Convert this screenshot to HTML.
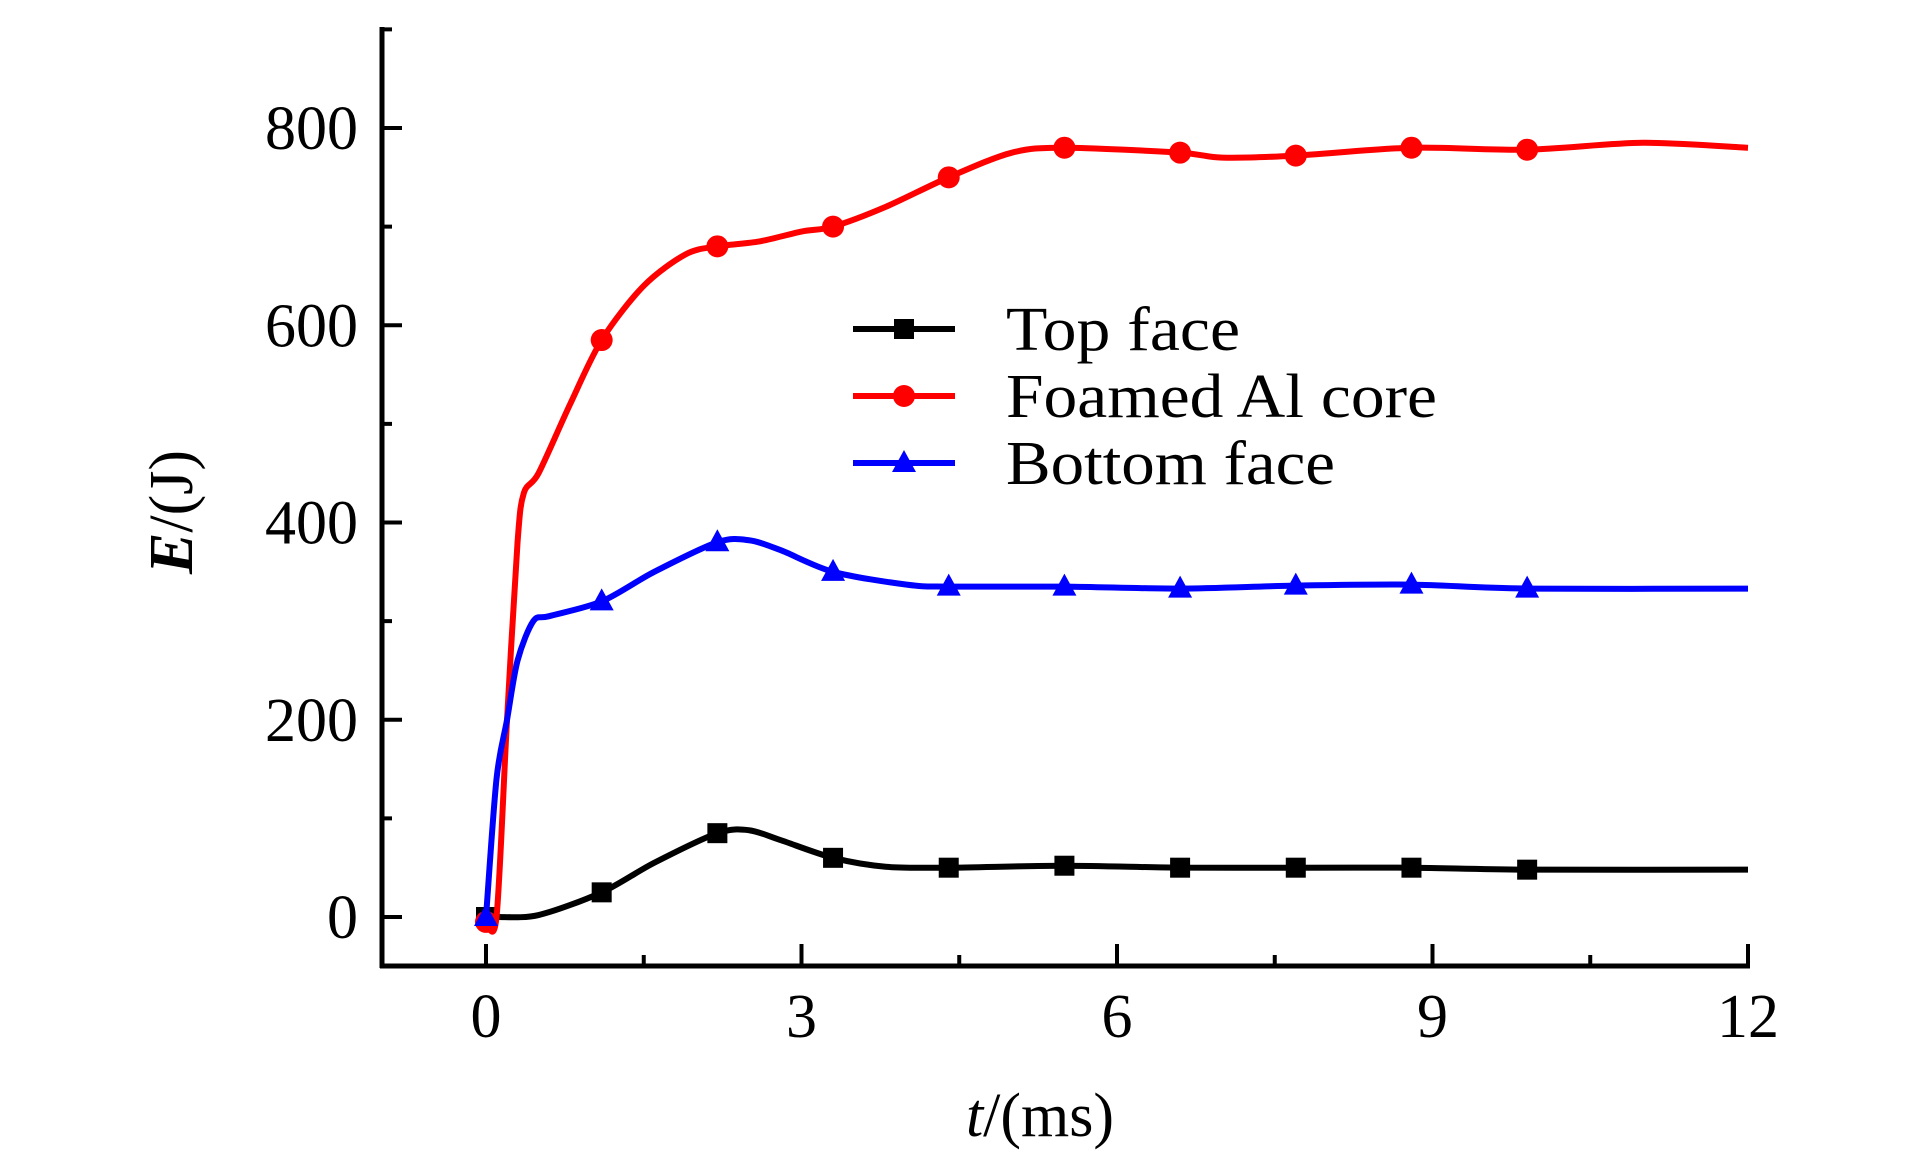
<!DOCTYPE html>
<html><head><meta charset="utf-8"><style>
html,body{margin:0;padding:0;background:#fff}
svg{display:block}
text{font-family:"Liberation Serif",serif;fill:#000}
</style></head><body>
<svg id="chart" width="1923" height="1169" viewBox="0 0 1923 1169" xmlns="http://www.w3.org/2000/svg">
<g id="axes"></g>
<g id="series"></g>
<g id="legend"></g>
<text x="1040" y="1136" font-size="62" text-anchor="middle"><tspan font-style="italic">t</tspan>/(ms)</text>
<text transform="translate(192,512) rotate(-90)" font-size="62" text-anchor="middle"><tspan font-style="italic" font-weight="bold">E</tspan>/(J)</text>
</svg>
<script>
const xTicks=[0,3,6,9,12];
const yTicks=[0,200,400,600,800];
const markerT=[0,1.1,2.2,3.3,4.4,5.5,6.6,7.7,8.8,9.9];
const topT=[0,0.1,0.5,1.1,1.6,2.2,2.5,2.8,3.3,3.8,4.4,5.5,6.6,7.7,8.8,9.9,12];
const topE=[0,0,2,25,55,85,88,78,60,51,50,52,50,50,50,48,48];
const coreT=[0,0.1,0.2,0.3,0.36,0.5,0.8,1.1,1.5,1.9,2.2,2.6,3.0,3.3,3.8,4.4,5.0,5.5,6.6,7.0,7.7,8.8,9.9,11,12];
const coreE=[-5,0,200,380,430,450,520,585,640,672,680,685,695,700,720,750,775,780,775,770,772,780,778,785,780];
const botT=[0,0.1,0.2,0.3,0.45,0.6,1.1,1.6,2.2,2.5,2.8,3.3,4.0,4.4,5.5,6.6,7.7,8.8,9.9,12];
const botE=[0,140,200,260,300,305,320,350,380,382,372,350,337,335,335,333,336,337,333,333];
const NS="http://www.w3.org/2000/svg";
const X0=486,X1=1748,Y0=917,Y800=128;
const xs=t=>X0+(X1-X0)*t/12;
const ys=e=>Y0+(Y800-Y0)*e/800;
function mk(tag,attrs,parent){const el=document.createElementNS(NS,tag);for(const k in attrs)el.setAttribute(k,attrs[k]);parent.appendChild(el);return el;}
const ax=document.getElementById('axes');
let l=mk('line',{x1:382,y1:27,x2:382,y2:968,stroke:'#000','stroke-width':5},ax);


l=mk('line',{x1:380,y1:966,x2:1750,y2:966,stroke:'#000','stroke-width':5},ax);


for(let v=0;v<=900;v+=100){const y=ys(v);const major=v%200===0;
 const t=mk('line',{x1:382,y1:y,x2:382+(major?20:10),y2:y,stroke:'#000','stroke-width':4},ax);
 
 }
yTicks.forEach(v=>{const t=mk('text',{x:358,y:ys(v)+21,'font-size':62,'text-anchor':'end'},ax);t.textContent=v;
 
 });
for(let v=0;v<=12;v+=1.5){const x=xs(v);const major=v%3===0;
 const t=mk('line',{x1:x,y1:966,x2:x,y2:966-(major?22:11),stroke:'#000','stroke-width':4},ax);
 
 }
xTicks.forEach(v=>{const t=mk('text',{x:xs(v),y:1037,'font-size':62,'text-anchor':'middle'},ax);t.textContent=v;
 
 });
function interp(T,E,t){for(let i=0;i<T.length-1;i++){if(t>=T[i]&&t<=T[i+1])return E[i]+(E[i+1]-E[i])*(t-T[i])/(T[i+1]-T[i]);}return E[E.length-1];}
function smoothPath(T,E){const P=T.map((t,i)=>[xs(t),ys(E[i])]);let d='M'+P[0][0]+','+P[0][1];
 for(let i=0;i<P.length-1;i++){const p0=P[Math.max(0,i-1)],p1=P[i],p2=P[i+1],p3=P[Math.min(P.length-1,i+2)];const k=0.15;
 d+=' C'+(p1[0]+(p2[0]-p0[0])*k)+','+(p1[1]+(p2[1]-p0[1])*k)+' '+(p2[0]-(p3[0]-p1[0])*k)+','+(p2[1]-(p3[1]-p1[1])*k)+' '+p2[0]+','+p2[1];}return d;}
function marker(type,x,y,c,g){let m;
 if(type==='sq')m=mk('rect',{x:x-10,y:y-10,width:20,height:20,fill:c},g);
 else if(type==='ci')m=mk('circle',{cx:x,cy:y,r:11,fill:c},g);
 else m=mk('polygon',{points:`${x},${y-13} ${x+12},${y+9} ${x-12},${y+9}`,fill:c},g);
 return m;}
const sg=document.getElementById('series');
const defs=[['top-face',topT,topE,'#000','sq'],['foamed-al-core',coreT,coreE,'#ff0000','ci'],['bottom-face',botT,botE,'#0000ff','tr']];
defs.forEach(([n,T,E,c,mt])=>{const g=mk('g',{},sg);
 
 
 const p=mk('path',{d:smoothPath(T,E),fill:'none',stroke:c,'stroke-width':6,'stroke-linejoin':'round'},g);
 
 
 markerT.forEach(t=>{const m=marker(mt,xs(t),ys(interp(T,E,t)),c,g);
  
  });});
const lg=document.getElementById('legend');
const labels=['Top face','Foamed Al core','Bottom face'];
const widths=[234,431,329];
defs.forEach(([n,T,E,c,mt],i)=>{const y=329+i*67;const g=mk('g',{},lg);
 
 
 mk('line',{x1:853,y1:y,x2:955,y2:y,stroke:c,'stroke-width':6},g);
 marker(mt,904,y,c,g);
 const t=mk('text',{x:1006,y:y+21,'font-size':62,textLength:widths[i],lengthAdjust:'spacingAndGlyphs'},g);t.textContent=labels[i];});
</script>
</body></html>
